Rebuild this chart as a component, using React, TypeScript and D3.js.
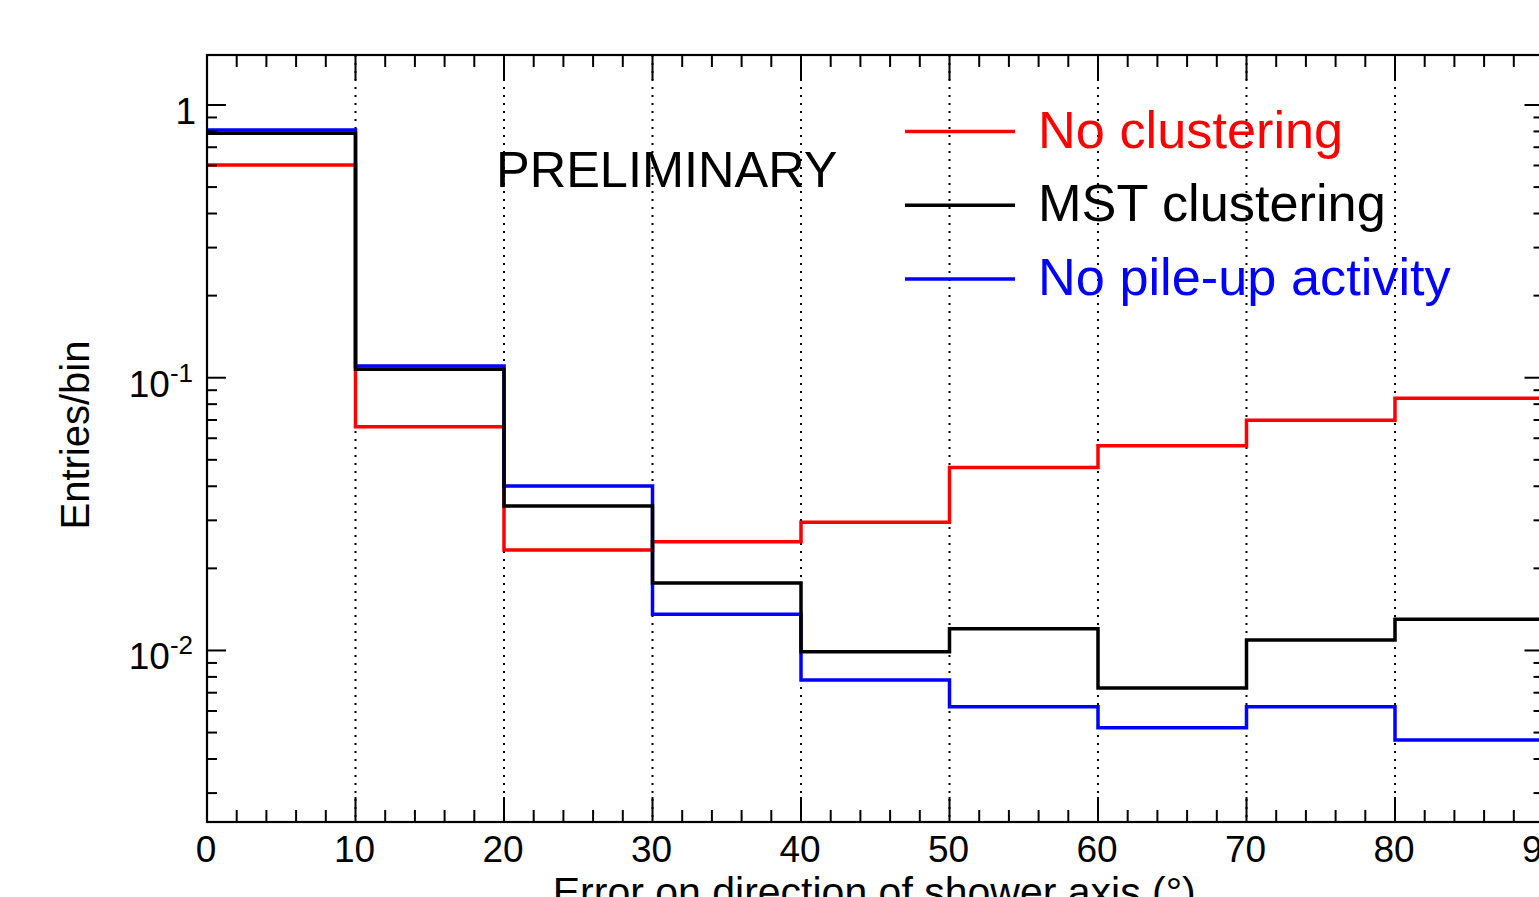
import React from "react";
import * as d3 from "d3";

const binEdges = [0, 10, 20, 30, 40, 50, 60, 70, 80, 90];
const noClustering = [0.6026, 0.0661, 0.02336, 0.02506, 0.02951, 0.04682, 0.05633, 0.06982, 0.08409];
const mstClustering = [0.7875, 0.1074, 0.03387, 0.01769, 0.0099, 0.01202, 0.00729, 0.01093, 0.01302];
const noPileUp = [0.8096, 0.1104, 0.0401, 0.01357, 0.0078, 0.00622, 0.00521, 0.00622, 0.0047];
const xTickValues = [0, 10, 20, 30, 40, 50, 60, 70, 80, 90];
const xTickLabels = ["0", "10", "20", "30", "40", "50", "60", "70", "80", "90"];
const yMajorTicks = [1, 0.1, 0.01];
const seriesNames = ["No clustering", "MST clustering", "No pile-up activity"];
const seriesColors = ["#ff0000", "#000000", "#0000ff"];

const W = 1539;
const H = 897;
const FONT = "'Liberation Sans', Arial, Helvetica, sans-serif";

export default function App() {
  const left = 207;
  const right = 1543.5;
  const top = 55;
  const bottom = 822;
  const x = d3.scaleLinear().domain([0, 90]).range([left, right]);
  const y = d3.scaleLog().domain([0.00235, 1.525]).range([bottom, top]);

  const histPath = (vals: number[]) => {
    const p = d3.path();
    p.moveTo(x(binEdges[0]), y(vals[0]));
    vals.forEach((v, i) => {
      p.lineTo(x(binEdges[i + 1]), y(v));
      if (i + 1 < vals.length) p.lineTo(x(binEdges[i + 1]), y(vals[i + 1]));
    });
    return p.toString();
  };

  const xMinor = d3.range(0, 90.01, 2).filter((v) => v % 10 !== 0);
  const yMinor: number[] = [];
  [0.001, 0.01, 0.1].forEach((dec) => {
    for (let k = 2; k <= 9; k++) {
      const v = dec * k;
      if (v >= 0.00235 && v <= 1.525) yMinor.push(v);
    }
  });

  const drawOrder = [0, 2, 1];
  const allSeries = [noClustering, mstClustering, noPileUp];

  const supLabels: Record<string, [string, string | null]> = {
    "1": ["1", null],
    "0.1": ["10", "-1"],
    "0.01": ["10", "-2"],
  };

  return (
    <svg
      width={W}
      height={H}
      style={{ position: "absolute", left: 0, top: 0, background: "#fff" }}
      fontFamily={FONT}
    >
      <rect x={0} y={0} width={W} height={H} fill="#fff" />
      {/* grid */}
      {xTickValues
        .filter((v) => v > 0)
        .map((v) => (
          <line
            key={"g" + v}
            x1={x(v)}
            x2={x(v)}
            y1={top}
            y2={bottom}
            stroke="#000"
            strokeWidth={2}
            strokeDasharray="2,6"
          />
        ))}
      {/* histograms */}
      {drawOrder.map((i) => (
        <path
          key={"h" + i}
          d={histPath(allSeries[i])}
          fill="none"
          stroke={seriesColors[i]}
          strokeWidth={3.5}
          strokeLinejoin="miter"
        />
      ))}
      {/* frame */}
      <rect x={left} y={top} width={right - left} height={bottom - top} fill="none" stroke="#000" strokeWidth={2.2} />
      {/* x ticks bottom & top */}
      {xTickValues.map((v) => (
        <g key={"xt" + v}>
          <line x1={x(v)} x2={x(v)} y1={bottom} y2={bottom - 25} stroke="#000" strokeWidth={2} />
          <line x1={x(v)} x2={x(v)} y1={top} y2={top + 25} stroke="#000" strokeWidth={2} />
        </g>
      ))}
      {xMinor.map((v) => (
        <g key={"xm" + v}>
          <line x1={x(v)} x2={x(v)} y1={bottom} y2={bottom - 12} stroke="#000" strokeWidth={2} />
          <line x1={x(v)} x2={x(v)} y1={top} y2={top + 12} stroke="#000" strokeWidth={2} />
        </g>
      ))}
      {/* y ticks left & right */}
      {yMajorTicks.map((v) => (
        <g key={"yt" + v}>
          <line x1={left} x2={left + 19} y1={y(v)} y2={y(v)} stroke="#000" strokeWidth={2} />
          <line x1={right} x2={right - 19} y1={y(v)} y2={y(v)} stroke="#000" strokeWidth={2} />
        </g>
      ))}
      {yMinor.map((v) => (
        <g key={"ym" + v}>
          <line x1={left} x2={left + 10} y1={y(v)} y2={y(v)} stroke="#000" strokeWidth={2} />
          <line x1={right} x2={right - 10} y1={y(v)} y2={y(v)} stroke="#000" strokeWidth={2} />
        </g>
      ))}
      {/* x tick labels */}
      {xTickValues.map((v, i) => (
        <text key={"xl" + v} x={x(v) - 1} y={862} fontSize={37} textAnchor="middle" fill="#000">
          {xTickLabels[i]}
        </text>
      ))}
      {/* y tick labels */}
      {yMajorTicks.map((v) => {
        const [base, sup] = supLabels[String(v)];
        return (
          <text key={"yl" + v} x={v === 1 ? 196 : 193} y={y(v) + 19} fontSize={37} textAnchor="end" fill="#000">
            {base}
            {sup && (
              <tspan fontSize={26} dy={-15}>
                {sup}
              </tspan>
            )}
          </text>
        );
      })}
      {/* axis titles */}
      <text x={(left + right) / 2 - 1} y={906} fontSize={41} textAnchor="middle" fill="#000">
        Error on direction of shower axis (°)
      </text>
      <text
        transform={`translate(89, ${(340 + 530) / 2}) rotate(-90)`}
        fontSize={40}
        textAnchor="middle"
        fill="#000"
      >
        Entries/bin
      </text>
      {/* PRELIMINARY */}
      <text x={496} y={187} fontSize={50.5} fill="#000">
        PRELIMINARY
      </text>
      {/* legend */}
      {seriesNames.map((name, i) => {
        const ly = 131.5 + i * 73.7;
        return (
          <g key={"lg" + i}>
            <line x1={905} x2={1015} y1={ly} y2={ly} stroke={seriesColors[i]} strokeWidth={3.5} />
            <text x={1038} y={ly + 16} fontSize={52.3} fill={seriesColors[i]}>
              {name}
            </text>
          </g>
        );
      })}
    </svg>
  );
}
